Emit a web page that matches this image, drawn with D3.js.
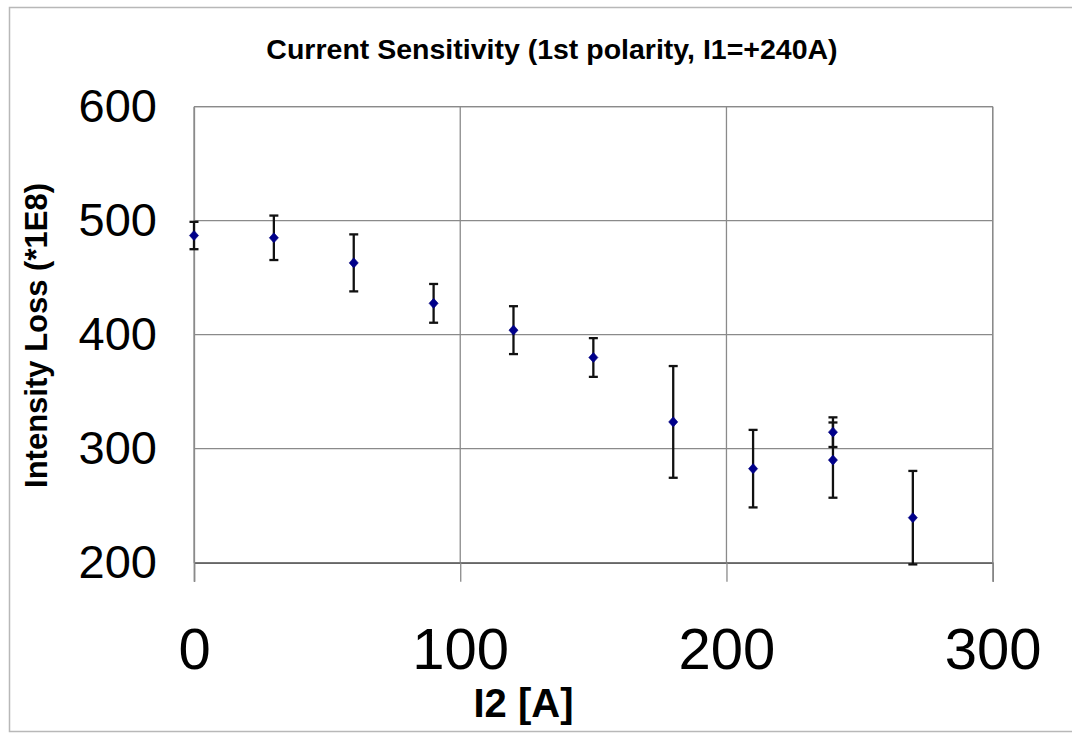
<!DOCTYPE html>
<html>
<head>
<meta charset="utf-8">
<script src="https://cdn.jsdelivr.net/npm/d3@7"></script>
<style>
  html, body { margin: 0; padding: 0; background: #fff; }
  svg { display: block; font-family: Arial, "Liberation Sans", sans-serif; }
</style>
</head>
<body>
<svg id="chart" width="1072" height="733"></svg>
<script>
const currentI2 = [0, 30, 60, 90, 120, 150, 180, 210, 240, 240, 270];
const intensityLoss = [487, 485, 463, 427.5, 404, 380, 323.5, 282.5, 314.5, 290, 239.5];
const errorSize = [12, 19.5, 25, 17, 21, 17, 49, 34, 13, 33, 41];
const xTicks = [0, 100, 200, 300];
const yTicks = [200, 300, 400, 500, 600];
const titleText = "Current Sensitivity (1st polarity, I1=+240A)";
const xTitle = "I2 [A]";
const yTitle = "Intensity Loss (*1E8)";

const svg = d3.select("#chart");
const plot = { left: 194, right: 992.7, top: 106.7, bottom: 562.7 };

// outer frame
svg.append("rect").attr("x", 9.5).attr("y", 7.5).attr("width", 1100).attr("height", 724)
  .attr("fill", "#fff").attr("stroke", "#b8b8b8").attr("stroke-width", 1.5);

const x = d3.scaleLinear().domain([0, 300]).range([plot.left, plot.right]);
const y = d3.scaleLinear().domain([200, 600]).range([plot.bottom, plot.top]);

// gridlines
const gGrid = svg.append("g");
gGrid.selectAll("line.h").data(yTicks).join("line")
  .attr("x1", plot.left).attr("x2", plot.right)
  .attr("y1", d => y(d)).attr("y2", d => y(d))
  .attr("stroke", "#8a8a8a").attr("stroke-width", 1.3);
gGrid.selectAll("line.v").data(xTicks).join("line")
  .attr("y1", plot.top).attr("y2", plot.bottom)
  .attr("x1", d => x(d)).attr("x2", d => x(d))
  .attr("stroke", "#8a8a8a").attr("stroke-width", 1.3);

// x axis with outside ticks
const xAxis = d3.axisBottom(x).tickValues(xTicks).tickSize(19).tickPadding(46).tickFormat(d3.format("d"));
const gx = svg.append("g").attr("transform", `translate(0,${plot.bottom})`).call(xAxis);
gx.select(".domain").attr("stroke", "#666").attr("stroke-width", 1.5);
gx.selectAll(".tick line").attr("stroke", "#8a8a8a").attr("stroke-width", 1.3);
gx.selectAll(".tick text").attr("font-size", 58).attr("fill", "#000")
  .attr("font-family", "Arial, 'Liberation Sans', sans-serif");

// y axis labels (no tick marks)
const yAxis = d3.axisLeft(y).tickValues(yTicks).tickSize(0).tickPadding(37).tickFormat(d3.format("d"));
const gy = svg.append("g").attr("transform", `translate(${plot.left},0)`).call(yAxis);
gy.select(".domain").attr("stroke", "#8a8a8a").attr("stroke-width", 1.3);
gy.selectAll(".tick text").attr("font-size", 47).attr("fill", "#000")
  .attr("font-family", "Arial, 'Liberation Sans', sans-serif");

// error bars
const pts = currentI2.map((d, i) => ({ x: d, y: intensityLoss[i], e: errorSize[i] }));
const gErr = svg.append("g").attr("stroke", "#111").attr("stroke-width", 2.3);
gErr.selectAll("line.stem").data(pts).join("line")
  .attr("x1", d => x(d.x)).attr("x2", d => x(d.x))
  .attr("y1", d => y(d.y + d.e)).attr("y2", d => y(d.y - d.e));
gErr.selectAll("line.capT").data(pts).join("line")
  .attr("x1", d => x(d.x) - 4.5).attr("x2", d => x(d.x) + 4.5)
  .attr("y1", d => y(d.y + d.e)).attr("y2", d => y(d.y + d.e));
gErr.selectAll("line.capB").data(pts).join("line")
  .attr("x1", d => x(d.x) - 4.5).attr("x2", d => x(d.x) + 4.5)
  .attr("y1", d => y(d.y - d.e)).attr("y2", d => y(d.y - d.e));

// markers (square diamond, ~10px across)
const diamondType = {
  draw(ctx, size) {
    const r = Math.sqrt(size / 2);
    ctx.moveTo(0, -r * 1.05); ctx.lineTo(r * 0.95, 0); ctx.lineTo(0, r * 1.05); ctx.lineTo(-r * 0.95, 0); ctx.closePath();
  }
};
const diamond = d3.symbol().type(diamondType).size(46);
svg.append("g").selectAll("path").data(pts).join("path")
  .attr("d", diamond)
  .attr("transform", d => `translate(${x(d.x)},${y(d.y)})`)
  .attr("fill", "#00008b").attr("stroke", "#00007a").attr("stroke-width", 0.6);

// plot border top/right
svg.append("line").attr("x1", plot.left).attr("x2", plot.right).attr("y1", plot.top).attr("y2", plot.top)
  .attr("stroke", "#8a8a8a").attr("stroke-width", 1.3);
svg.append("line").attr("x1", plot.right).attr("x2", plot.right).attr("y1", plot.top).attr("y2", plot.bottom)
  .attr("stroke", "#8a8a8a").attr("stroke-width", 1.3);

// titles
svg.append("text").attr("x", 552).attr("y", 59).attr("text-anchor", "middle")
  .attr("font-size", 28.5).attr("font-weight", "bold").text(titleText);
svg.append("text").attr("x", 523.5).attr("y", 717).attr("text-anchor", "middle")
  .attr("font-size", 40).attr("font-weight", "bold").text(xTitle);
svg.append("text").attr("transform", "translate(47,335.5) rotate(-90)").attr("text-anchor", "middle")
  .attr("font-size", 31).attr("font-weight", "bold").text(yTitle);
</script>
</body>
</html>
